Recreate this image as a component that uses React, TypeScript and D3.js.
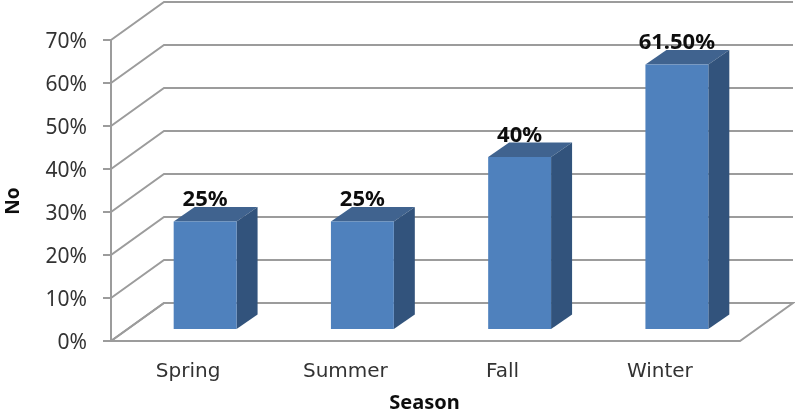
import React from "react";
import * as d3 from "d3";

const categories = ["Spring", "Summer", "Fall", "Winter"];
const values = [25, 25, 40, 61.5];
const valueLabels = ["25%", "25%", "40%", "61.50%"];
const ticks = [0, 10, 20, 30, 40, 50, 60, 70];

const W = 795, H = 414;
const FONT = "'DejaVu Sans', Verdana, sans-serif";
const FONT2 = "'Noto Sans', 'Open Sans', sans-serif";
const GRID = "#9c9c9c";
const dx = 53, dy = 38;
const x0 = 111, x1 = 740;
const y = d3.scaleLinear().domain([0, 70]).range([341, 40]);
const band = d3.scaleBand<string>().domain(categories).range([126.5, 755.5]).paddingInner(0.6).paddingOuter(0.3);
const barDx = 21, barDy = 14.5, barLift = 12;

export default function App() {
  const bw = band.bandwidth();
  return (
    <svg width={W} height={H} viewBox={`0 0 ${W} ${H}`} style={{ position: "fixed", left: 0, top: 0, display: "block", background: "#fff" }}>
      <defs>
        <filter id="soft" x="-5%" y="-5%" width="110%" height="110%">
          <feGaussianBlur stdDeviation="0.45" />
        </filter>
      </defs>
      <g filter="url(#soft)">
        <path d={`M${x0},${y(0)} L${x1},${y(0)} L${x1 + dx},${y(0) - dy} L${x0 + dx},${y(0) - dy} Z`} fill="none" stroke={GRID} strokeWidth={2} />
        {ticks.map((t) => (
          <g key={t}>
            <path d={`M${x0},${y(t)} L${x0 + dx},${y(t) - dy} L${x1 + dx},${y(t) - dy}`} fill="none" stroke={GRID} strokeWidth={2} />
            <line x1={x0 - 8} x2={x0} y1={y(t)} y2={y(t)} stroke={GRID} strokeWidth={2} />
            <text x={87} y={y(t) + 7.5} textAnchor="end" fontFamily={FONT2} fontSize={21} fill="#333">{t}%</text>
          </g>
        ))}
        <line x1={x0} x2={x0} y1={y(0)} y2={y(70)} stroke={GRID} strokeWidth={2} />
        {categories.map((c, i) => {
          const l = band(c)!;
          const r = l + bw;
          const top = y(values[i]) - barLift;
          const bot = y(0) - barLift;
          return (
            <g key={c}>
              <path d={`M${l},${top} L${l + barDx},${top - barDy} L${r + barDx},${top - barDy} L${r},${top} Z`} fill="#3f638f" />
              <path d={`M${r},${top} L${r + barDx},${top - barDy} L${r + barDx},${bot - barDy} L${r},${bot} Z`} fill="#32537b" />
              <rect x={l} y={top} width={bw} height={bot - top} fill="#4f81bd" />
              <text x={l + bw / 2} y={top - 15.5} textAnchor="middle" fontFamily={FONT2} fontWeight={700} fontSize={22} fill="#111">{valueLabels[i]}</text>
              <text x={l + bw / 2 - 17} y={377} textAnchor="middle" fontFamily={FONT} fontSize={20} fill="#333">{c}</text>
            </g>
          );
        })}
        <text x={424.5} y={409} textAnchor="middle" fontFamily={FONT2} fontWeight={700} fontSize={20} fill="#111">Season</text>
        <text transform="translate(19,201) rotate(-90)" textAnchor="middle" fontFamily={FONT2} fontWeight={700} fontSize={19} fill="#111">No</text>
      </g>
    </svg>
  );
}
